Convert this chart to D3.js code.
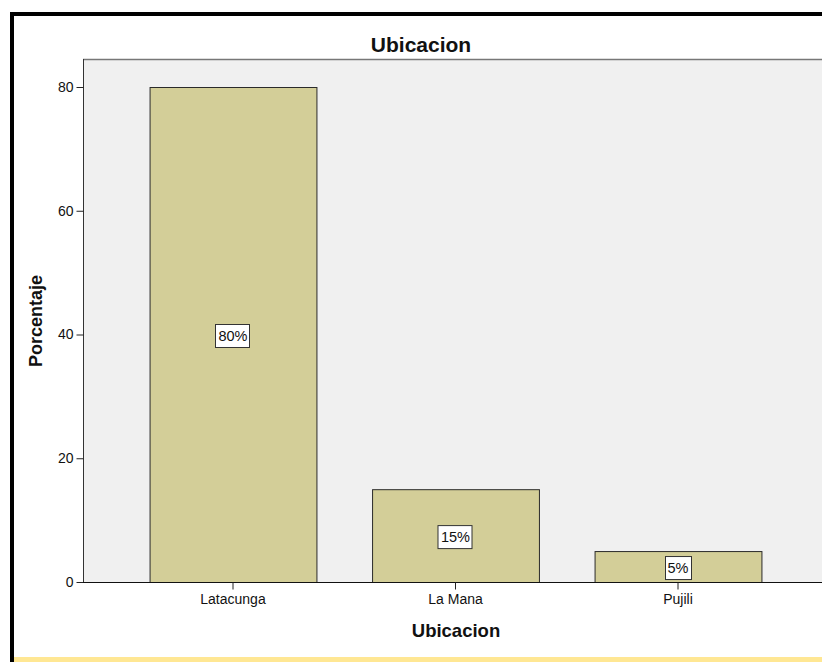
<!DOCTYPE html>
<html>
<head>
<meta charset="utf-8">
<script src="https://cdn.jsdelivr.net/npm/d3@7"></script>
<style>
  html, body { margin: 0; padding: 0; background: #fff; overflow: hidden; }
  svg { display: block; }
</style>
</head>
<body>
<svg id="chart" width="822" height="662"></svg>
<script>
// Location share (percent of respondents)
const categories = ["Latacunga", "La Mana", "Pujili"];
const percents = [80, 15, 5];
const yTicks = [0, 20, 40, 60, 80];
const chartTitle = "Ubicacion";
const xTitle = "Ubicacion";
const yTitle = "Porcentaje";

const svg = d3.select("#chart");
const font = "'Liberation Sans', Arial, sans-serif";

// Plot frame (extends slightly past the right edge of the canvas)
const plot = { left: 83, top: 59, right: 828, bottom: 582 };

// Outer frame: thick black border on top/left, pale yellow strip at bottom
svg.append("rect").attr("x", 10).attr("y", 12).attr("width", 830).attr("height", 4).attr("fill", "#000");
svg.append("rect").attr("x", 10).attr("y", 12).attr("width", 4).attr("height", 660).attr("fill", "#000");
svg.append("rect").attr("x", 14).attr("y", 657).attr("width", 820).attr("height", 5).attr("fill", "#ffe793");

const x = d3.scaleBand()
  .domain(categories)
  .range([plot.left + 38.75, plot.right - 38.75])
  .paddingInner(0.25)
  .paddingOuter(0.125);

const y = d3.scaleLinear()
  .domain([0, 80])
  .range([plot.bottom, 87]);

// Plot background
svg.append("rect")
  .attr("x", plot.left).attr("y", plot.top)
  .attr("width", plot.right - plot.left).attr("height", plot.bottom - plot.top)
  .attr("fill", "#f0f0f0");
svg.append("line")
  .attr("x1", plot.left).attr("x2", plot.right)
  .attr("y1", plot.top + 0.5).attr("y2", plot.top + 0.5)
  .attr("stroke", "#777").attr("stroke-width", 1.5);

// Bars
svg.append("g").selectAll("rect")
  .data(categories)
  .join("rect")
  .attr("x", d => x(d) + 0.5)
  .attr("y", (d, i) => y(percents[i]) + 0.5)
  .attr("width", x.bandwidth())
  .attr("height", (d, i) => y(0) - y(percents[i]))
  .attr("fill", "#d3ce98")
  .attr("stroke", "#2a2a2a")
  .attr("stroke-width", 1);

// Axes
const yAxis = d3.axisLeft(y).tickValues(yTicks).tickSize(7).tickSizeOuter(0);
const gy = svg.append("g")
  .attr("transform", `translate(${plot.left + 0.5},0)`)
  .call(yAxis);
gy.select(".domain").attr("d", `M0,${plot.top}V${plot.bottom}`).attr("stroke", "#333");
gy.selectAll(".tick line").attr("stroke", "#222");
gy.selectAll(".tick text")
  .attr("font-family", font).attr("font-size", 14).attr("fill", "#111").attr("x", -10);

const xAxis = d3.axisBottom(x).tickSize(7).tickSizeOuter(0);
const gx = svg.append("g")
  .attr("transform", `translate(0,${plot.bottom + 0.5})`)
  .call(xAxis);
gx.select(".domain").attr("d", `M${plot.left},0H${plot.right}`).attr("stroke", "#111");
gx.selectAll(".tick line").attr("stroke", "#222");
gx.selectAll(".tick text")
  .attr("font-family", font).attr("font-size", 14).attr("fill", "#111").attr("y", 12);

// Value labels in white boxes, centered at half bar height
const labels = svg.append("g").selectAll("g")
  .data(categories)
  .join("g")
  .attr("transform", (d, i) => `translate(${x(d) + x.bandwidth() / 2},${y(percents[i] / 2) + 1.5})`);
labels.append("text")
  .attr("text-anchor", "middle")
  .attr("dy", "0.36em")
  .attr("font-family", font).attr("font-size", 14.5).attr("fill", "#111")
  .text((d, i) => percents[i] + "%");
labels.each(function () {
  const g = d3.select(this);
  const bb = g.select("text").node().getBBox();
  g.insert("rect", "text")
    .attr("x", Math.round(bb.x) - 2.5).attr("y", -11.5)
    .attr("width", Math.round(bb.width) + 5).attr("height", 23)
    .attr("fill", "#fff").attr("stroke", "#333").attr("stroke-width", 1);
});

// Titles
svg.append("text")
  .attr("x", 421).attr("y", 52)
  .attr("text-anchor", "middle")
  .attr("font-family", font).attr("font-size", 21).attr("font-weight", "bold").attr("fill", "#111")
  .text(chartTitle);
svg.append("text")
  .attr("x", 456).attr("y", 637)
  .attr("text-anchor", "middle")
  .attr("font-family", font).attr("font-size", 18.5).attr("font-weight", "bold").attr("fill", "#111")
  .text(xTitle);
svg.append("text")
  .attr("transform", "translate(42,321) rotate(-90)")
  .attr("text-anchor", "middle")
  .attr("font-family", font).attr("font-size", 18).attr("font-weight", "bold").attr("fill", "#111")
  .text(yTitle);
</script>
</body>
</html>
